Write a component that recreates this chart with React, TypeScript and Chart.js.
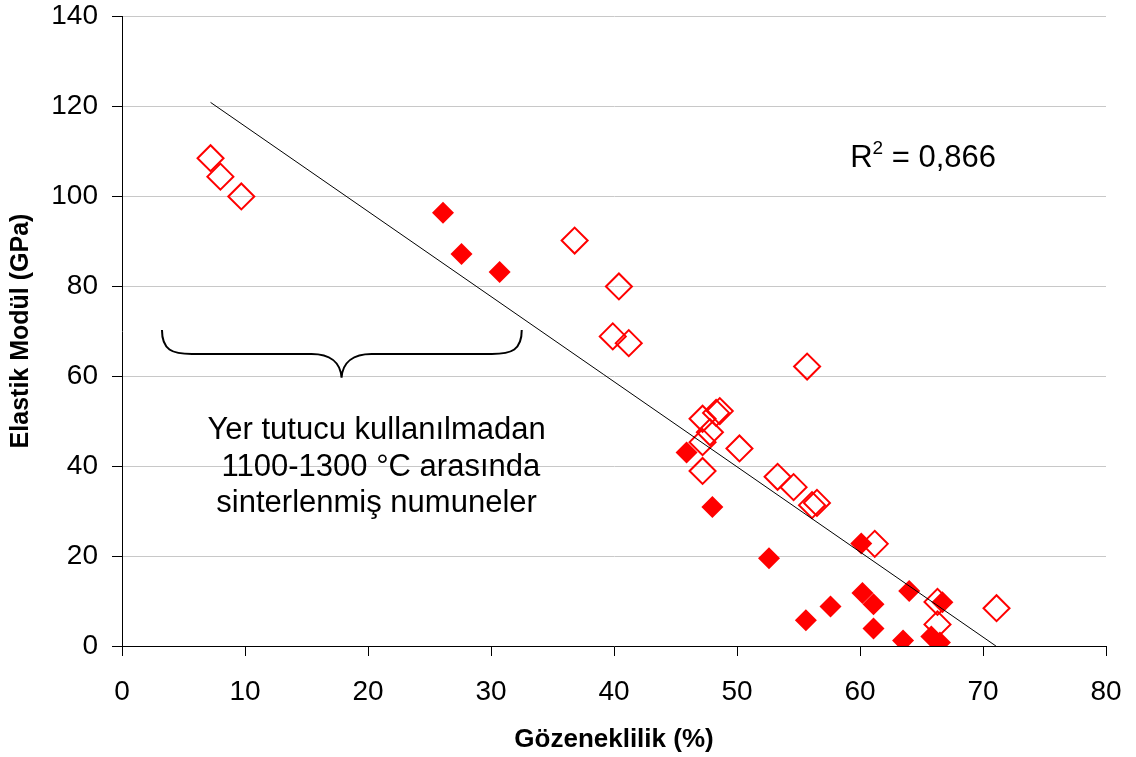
import React, { useEffect, useRef } from "react";
import { Chart, registerables } from "chart.js";

Chart.register(...registerables);

// Hollow markers series (Gözeneklilik %, Elastik Modül GPa)
const openX = [7.2, 8.0, 9.7, 36.8, 40.4, 39.9, 41.2, 55.7, 47.2, 48.3, 48.6, 47.8, 47.2, 50.2, 47.2, 53.3, 54.6, 56.1, 56.5, 61.2, 66.3, 66.3, 71.1];
const openY = [108.4, 104.3, 99.9, 90.1, 79.9, 68.8, 67.3, 62.1, 50.5, 51.8, 52.2, 47.5, 45.3, 43.9, 38.9, 37.6, 35.3, 31.3, 31.8, 22.7, 9.8, 4.8, 8.4];

// Filled markers series (sintered without space holder)
const filledX = [26.1, 27.6, 30.7, 45.9, 48.0, 52.6, 60.1, 60.2, 61.1, 57.6, 55.6, 61.1, 63.5, 64.0, 66.7, 65.8, 66.5];
const filledY = [96.3, 87.1, 83.1, 43.0, 30.9, 19.5, 22.8, 11.8, 9.3, 8.8, 5.7, 3.9, 1.2, 12.2, 9.7, 2.1, 0.8];

// Linear trendline end points
const trendX = [7.2, 71.05];
const trendY = [120.8, 0];

const xTicks = [0, 10, 20, 30, 40, 50, 60, 70, 80];
const yTicks = [0, 20, 40, 60, 80, 100, 120, 140];

const xTitle = "Gözeneklilik (%)";
const yTitle = "Elastik Modül (GPa)";
const noteLines = ["Yer tutucu kullanılmadan", " 1100-1300 °C arasında", "sinterlenmiş numuneler"];
const r2Value = "0,866";

const FONT = "'Liberation Sans', Arial, sans-serif";

const toPts = (xs: number[], ys: number[]) => xs.map((x, i) => ({ x, y: ys[i] }));

const annotationPlugin = {
  id: "annotations",
  afterDatasetsDraw(chart: any) {
    const { ctx, scales } = chart;
    const xs = scales.x;
    const ys = scales.y;
    const px = (v: number) => xs.getPixelForValue(v);
    const py = (v: number) => ys.getPixelForValue(v);
    ctx.save();

    // curly brace
    const L = px(3.25);
    const R = px(32.5);
    const M = px(17.85);
    const top = py(70.2);
    const bar = py(64.9);
    const tip = py(59.6);
    ctx.strokeStyle = "#000";
    ctx.lineWidth = 2;
    ctx.beginPath();
    ctx.moveTo(L, top);
    ctx.bezierCurveTo(L, bar - 4, L + 10, bar, L + 30, bar);
    ctx.lineTo(M - 30, bar);
    ctx.bezierCurveTo(M - 12, bar, M - 1, bar + 8, M, tip);
    ctx.bezierCurveTo(M + 1, bar + 8, M + 12, bar, M + 30, bar);
    ctx.lineTo(R - 30, bar);
    ctx.bezierCurveTo(R - 10, bar, R, bar - 4, R, top);
    ctx.stroke();

    // note text
    ctx.fillStyle = "#000";
    ctx.font = `31px ${FONT}`;
    ctx.textAlign = "center";
    ctx.textBaseline = "alphabetic";
    const cx = px(20.7);
    const by = py(46);
    noteLines.forEach((t, i) => ctx.fillText(t, cx, by + i * 36.5));

    // R^2 label
    ctx.textAlign = "left";
    let x0 = px(59.2);
    const base = py(106.4);
    ctx.font = `31px ${FONT}`;
    ctx.fillText("R", x0, base);
    x0 += ctx.measureText("R").width;
    ctx.font = `19px ${FONT}`;
    ctx.fillText("2", x0, base - 13);
    x0 += ctx.measureText("2").width;
    ctx.font = `31px ${FONT}`;
    ctx.fillText(" = " + r2Value, x0, base);
    ctx.restore();
  },
};

const clearPad = (s: any) => {
  s.paddingTop = 0;
  s.paddingBottom = 0;
  s.paddingLeft = 0;
  s.paddingRight = 0;
};

export default function App() {
  const ref = useRef<HTMLCanvasElement | null>(null);
  useEffect(() => {
    if (!ref.current) return;
    const chart = new Chart(ref.current, {
      type: "scatter",
      data: {
        datasets: [
          {
            type: "line",
            label: "trend",
            data: toPts(trendX, trendY),
            borderColor: "#000",
            borderWidth: 1,
            pointRadius: 0,
            fill: false,
          } as any,
          {
            label: "filled",
            data: toPts(filledX, filledY),
            pointStyle: "rectRot",
            pointRadius: 11,
            backgroundColor: "#ff0000",
            borderColor: "#ff0000",
            borderWidth: 0,
          },
          {
            label: "open",
            data: toPts(openX, openY),
            pointStyle: "rectRot",
            pointRadius: 13,
            backgroundColor: "rgba(0,0,0,0)",
            borderColor: "#ff0000",
            borderWidth: 2,
          },
        ],
      },
      options: {
        responsive: false,
        animation: false,
        events: [],
        layout: { padding: { top: 16, right: 30, left: 0, bottom: 0 } },
        plugins: { legend: { display: false }, tooltip: { enabled: false } },
        scales: {
          x: {
            type: "linear",
            min: 0,
            max: 80,
            afterBuildTicks: (s: any) => {
              s.ticks = xTicks.map((v) => ({ value: v }));
            },
            afterFit: (s: any) => {
              s.height = 111;
              clearPad(s);
            },
            grid: { drawOnChartArea: false, tickLength: 10, tickColor: "#000", color: "#000" },
            border: { color: "#000", width: 1 },
            ticks: { color: "#000", font: { family: FONT, size: 28 }, padding: 19, maxRotation: 0 },
            title: {
              display: true,
              text: xTitle,
              color: "#000",
              font: { family: FONT, size: 26, weight: "bold" },
              padding: { top: 0, bottom: 2 },
            },
          },
          y: {
            type: "linear",
            min: 0,
            max: 140,
            afterBuildTicks: (s: any) => {
              s.ticks = yTicks.map((v) => ({ value: v }));
            },
            afterFit: (s: any) => {
              s.width = 122;
              clearPad(s);
            },
            grid: { color: "#c8c8c8", tickLength: 10, tickColor: "#000", lineWidth: 1 },
            border: { color: "#000", width: 1 },
            ticks: { color: "#000", font: { family: FONT, size: 28 }, padding: 14 },
            title: {
              display: true,
              text: yTitle,
              color: "#000",
              font: { family: FONT, size: 25, weight: "bold" },
              padding: { top: 6, bottom: 0 },
            },
          },
        },
      },
      plugins: [annotationPlugin],
    });
    return () => chart.destroy();
  }, []);
  return (
    <div style={{ position: "absolute", left: 0, top: 0, width: 1136, height: 757, background: "#fff" }}>
      <canvas ref={ref} width={1136} height={757} style={{ width: 1136, height: 757, display: "block" }} />
    </div>
  );
}
